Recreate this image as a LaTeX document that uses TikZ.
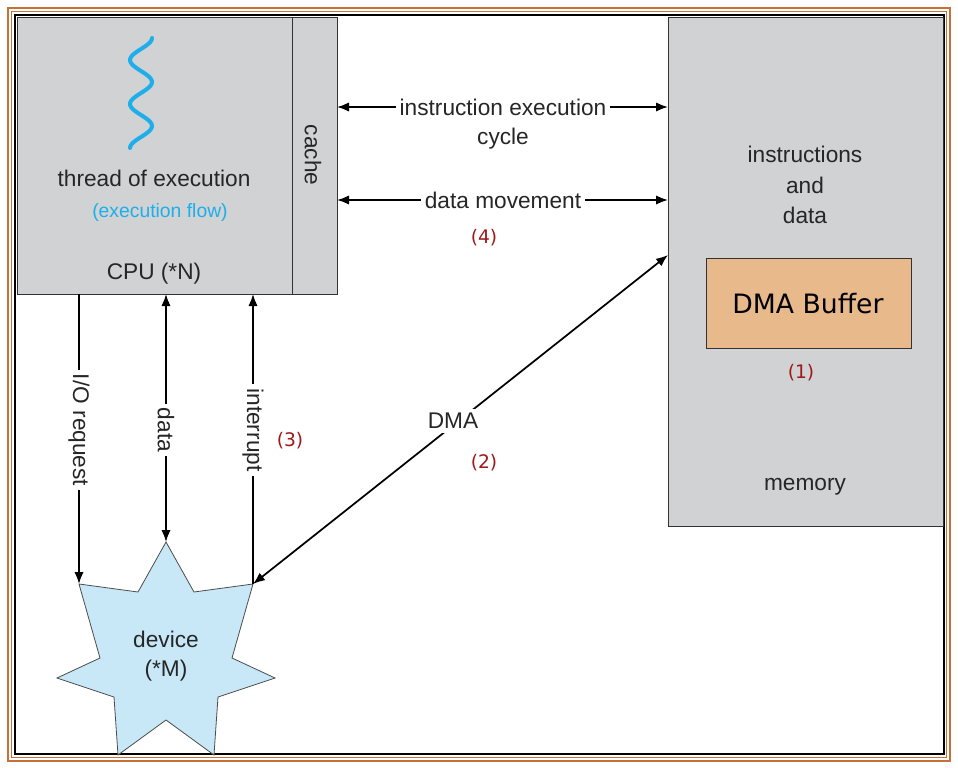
\documentclass[tikz,border=0pt]{standalone}
\usepackage{fontspec}
\setmainfont{Liberation Sans}
\newfontfamily\tah{DejaVu Sans}
\usetikzlibrary{arrows.meta}
\definecolor{box}{HTML}{D0D2D4}
\definecolor{org}{HTML}{C8703A}
\definecolor{tan}{HTML}{E8B98A}
\definecolor{rd}{HTML}{A01818}
\definecolor{sky}{HTML}{1EAEEA}
\definecolor{star}{HTML}{C8E8F8}
\begin{document}
\begin{tikzpicture}[x=0.75pt,y=-0.75pt,
  lbl/.style={font=\fontsize{17}{20}\selectfont,text=black!85,align=center},
  rlab/.style={font=\tah\fontsize{14}{17}\selectfont,text=rd},
  ar/.style={line width=1.3pt,-{Latex[length=9pt,width=7pt]}},
  dar/.style={line width=1.3pt,{Latex[length=9pt,width=7pt]}-{Latex[length=9pt,width=7pt]}},
  wb/.style={lbl,fill=white,inner sep=3pt}]
\useasboundingbox (0,0) rectangle (958,768);
\fill[white] (0,0) rectangle (958,768);
\draw[org,line width=1.2pt] (8,8) rectangle (950,761);
\draw[org,line width=1.2pt] (11.5,11.5) rectangle (946.5,757.5);
\draw[black,line width=2pt] (15,15) rectangle (944,754);
% CPU
\node[draw=black!80,line width=1pt,fill=box,minimum width=320*0.75pt,minimum height=277*0.75pt,anchor=north west,inner sep=0] (cpu) at (17,17) {};
\node[draw=black!80,line width=1pt,fill=box,minimum width=45*0.75pt,minimum height=277*0.75pt,anchor=north west,inner sep=0] (cache) at (292,17) {};
\node[lbl,rotate=-90] (cachet) at (313,155) {cache};
\draw[sky,line width=3pt,line cap=round] plot[domain=0:1,samples=60,smooth] ({141+11*sin(\x*900+90)},{38+\x*110});
\node[lbl] (thread) at (154,178) {thread of execution};
\node[font=\fontsize{14.5}{17}\selectfont,text=sky] (flow) at (160,212) {(execution flow)};
\node[lbl] (cpul) at (154,274) {CPU (*N)};
% memory
\node[draw=black!80,line width=1pt,fill=box,minimum width=275*0.75pt,minimum height=509*0.75pt,anchor=north west,inner sep=0] (mem) at (668,17) {};
\node[lbl,align=center,font=\fontsize{17}{23}\selectfont] (instr) at (805,185) {instructions\\and\\data};
\node[draw=black!80,line width=1pt,fill=tan,minimum width=205*0.75pt,minimum height=90*0.75pt,anchor=north west,inner sep=0] (buf) at (706,258) {};
\node[font=\tah\fontsize{20}{24}\selectfont] (buft) at (808,304) {DMA Buffer};
\node[rlab] (one) at (801,373) {(1)};
\node[lbl] (meml) at (805,487) {memory};
% star
\coordinate (sc) at (166,660);
\coordinate (p0) at (166,542);
\coordinate (p1) at (253,584);
\coordinate (p2) at (275,678);
\coordinate (p3) at (214,755);
\coordinate (p4) at (118,755);
\coordinate (p5) at (57,678);
\coordinate (p6) at (79,584);
\draw[fill=star,draw=black!70,line width=0.6pt] (p0) -- (194,592) -- (p1) -- (232,658) -- (p2) -- (218,697) -- (p3) -- (166,720) -- (p4) -- (114,697) -- (p5) -- (100,658) -- (p6) -- (138,592) -- cycle;
\node[lbl,font=\fontsize{17}{22}\selectfont] (dev) at (166,656) {device\\(*M)};
% horizontal arrows
\coordinate (a1) at (337,107); \coordinate (b1) at (668,107);
\draw[dar] (a1) -- (b1);
\node[wb] (iec) at (503,107) {instruction execution};
\node[lbl] (cyc) at (503,139) {cycle};
\coordinate (a2) at (337,200); \coordinate (b2) at (668,200);
\draw[dar] (a2) -- (b2);
\node[wb] (dm) at (503,200) {data movement};
\node[rlab] (four) at (484,238) {(4)};
% DMA
\coordinate (b3) at (668,255);
\draw[dar] (p1) -- (b3);
\node[wb] (dma) at (453,421) {DMA};
\node[rlab] (two) at (484,463) {(2)};
% verticals
\coordinate (c1) at (79,294); \coordinate (c2) at (166,294); \coordinate (c3) at (253,294);
\draw[ar] (c1) -- (p6);
\node[wb,rotate=-90] (io) at (79,430) {I/O request};
\draw[dar] (c2) -- (p0);
\node[wb,rotate=-90] (dat) at (166,430) {data};
\draw[ar] (p1) -- (c3);
\node[wb,rotate=-90] (intr) at (253,430) {interrupt};
\node[rlab] (three) at (290,441) {(3)};
\end{tikzpicture}
\end{document}
